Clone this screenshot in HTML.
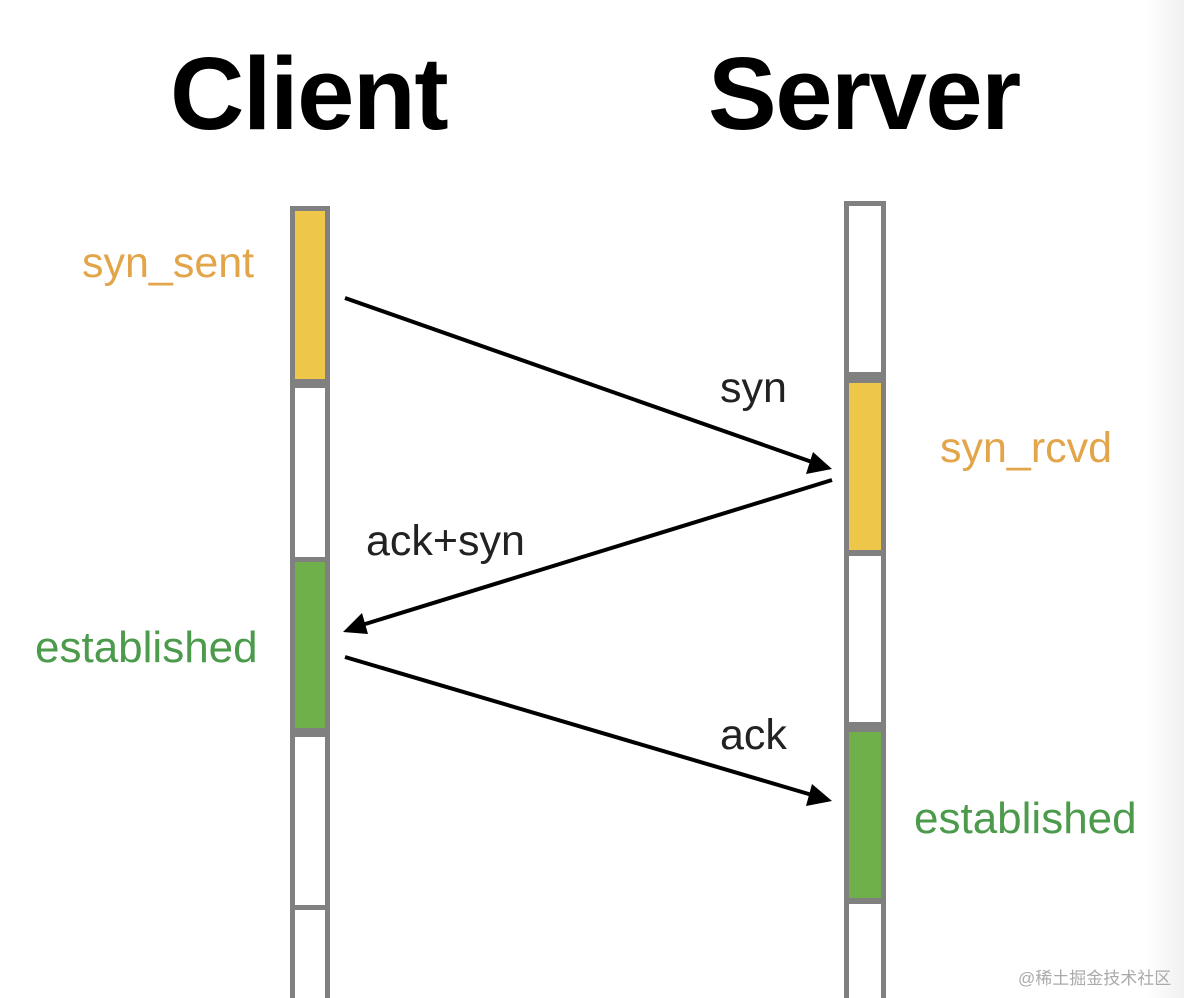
<!DOCTYPE html>
<html><head><meta charset="utf-8"><style>
html,body{margin:0;padding:0;}
body{width:1184px;height:998px;overflow:hidden;background:#fff;position:relative;font-family:"Liberation Sans",sans-serif;}
.t{position:absolute;white-space:nowrap;line-height:1;}
.h{font-weight:bold;font-size:103px;color:#000;letter-spacing:-1.5px;}
.o{color:#e3a54a;font-size:43px;}
.g{color:#4c9a4c;font-size:44px;}
.k{color:#222;font-size:43px;}
.edge{position:absolute;right:0;top:0;width:40px;height:998px;background:linear-gradient(to right,#fff,#f1f1f1);}
</style></head><body>
<div class="edge"></div>
<svg width="1184" height="998" style="position:absolute;left:0;top:0">
<defs><marker id="a" markerWidth="10" markerHeight="10" refX="8" refY="5" orient="auto" markerUnits="userSpaceOnUse" viewBox="0 0 10 10"><path d="M0,0 L10,5 L0,10 z" fill="#000"/></marker></defs>
<!-- client bar -->
<rect x="290" y="206" width="40" height="800" fill="#808080"/>
<rect x="295" y="211" width="30" height="168" fill="#eec64a"/>
<rect x="295" y="388" width="30" height="169" fill="#fff"/>
<rect x="295" y="562" width="30" height="166" fill="#70b04a"/>
<rect x="295" y="737" width="30" height="168" fill="#fff"/>
<rect x="295" y="910" width="30" height="100" fill="#fff"/>
<!-- server bar -->
<rect x="844" y="201" width="42" height="800" fill="#808080"/>
<rect x="849" y="206" width="32" height="166" fill="#fff"/>
<rect x="849" y="383" width="32" height="167" fill="#eec64a"/>
<rect x="849" y="556" width="32" height="166" fill="#fff"/>
<rect x="849" y="732" width="32" height="166" fill="#70b04a"/>
<rect x="849" y="904" width="32" height="100" fill="#fff"/>
<!-- arrows -->
<g stroke="#000" stroke-width="4" fill="none">
<line x1="345" y1="298" x2="812" y2="462"/>
<line x1="832" y1="480" x2="362" y2="625"/>
<line x1="345" y1="657" x2="812" y2="795"/>
</g>
<path d="M832,469 L806,474 L813,452 z" fill="#000"/>
<path d="M343,632 L362,613 L368,634 z" fill="#000"/>
<path d="M832,801 L806,806 L812,784 z" fill="#000"/>
</svg>
<div class="t h" style="left:170px;top:42px;">Client</div>
<div class="t h" style="left:708px;top:42px;">Server</div>
<div class="t o" style="left:82px;top:242px;">syn_sent</div>
<div class="t k" style="left:720px;top:367px;">syn</div>
<div class="t o" style="left:940px;top:427px;">syn_rcvd</div>
<div class="t k" style="left:366px;top:520px;">ack+syn</div>
<div class="t g" style="left:35px;top:626px;">established</div>
<div class="t k" style="left:720px;top:714px;">ack</div>
<div class="t g" style="left:914px;top:797px;">established</div>
<div class="t" style="left:1018px;top:970px;font-size:17px;color:#aaa;font-family:'Liberation Sans','Noto Sans CJK SC',sans-serif;">@稀土掘金技术社区</div>
</body></html>
